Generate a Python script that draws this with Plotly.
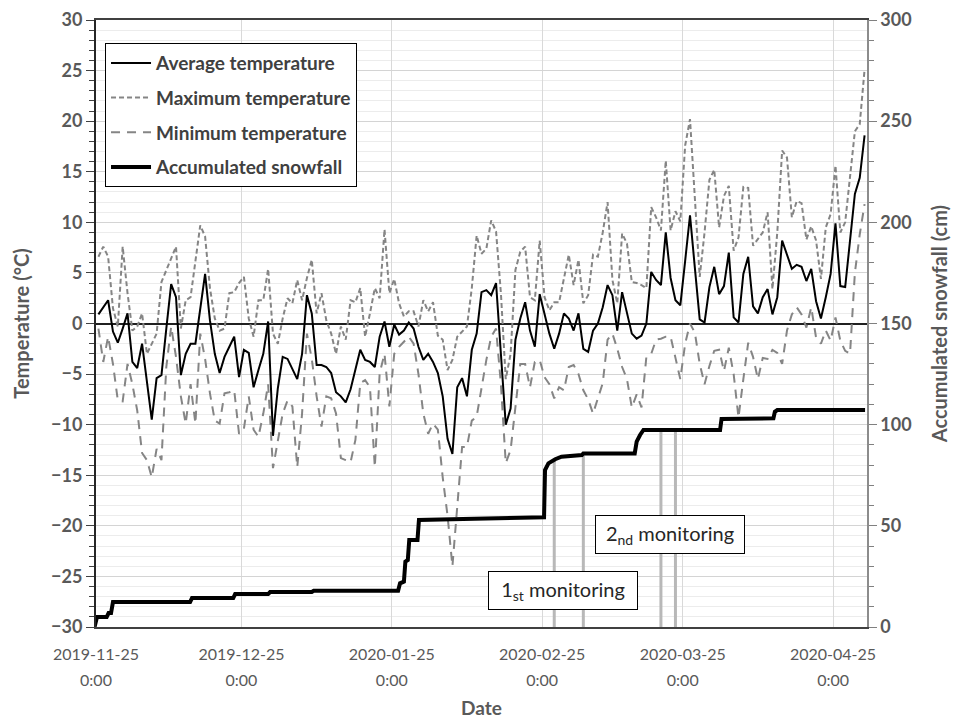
import plotly.graph_objects as go
import pandas as pd

# ---------------- data ----------------
start = pd.Timestamp("2019-11-25")
temp_dates = pd.date_range("2019-11-25 12:00", periods=159, freq="D")

avg_temp = [
    0.9, 1.6, 2.3, -0.8, -1.9, -0.5, 1.0, -3.8, -4.4, -2.0,
    -5.9, -9.5, -5.4, -5.1, -0.5, 3.9, 2.6, -5.1, -3.0, -2.0,
    -2.0, 1.5, 4.9, 0.3, -3.0, -4.9, -3.3, -2.3, -1.3, -5.3,
    -2.6, -2.9, -6.3, -4.6, -3.0, 0.2, -11.1, -6.4, -3.3, -3.5,
    -4.5, -5.5, -3.0, 2.8, 1.0, -4.1, -4.1, -4.3, -4.9, -6.8,
    -7.2, -7.8, -6.5, -4.5, -2.6, -3.6, -3.8, -4.3, -1.3, 0.2,
    -2.3, -0.1, -1.1, -0.7, 0.1, -0.5, -2.3, -3.6, -3.0, -3.8,
    -4.9, -7.2, -11.4, -12.9, -6.3, -5.4, -7.2, -2.6, -1.0, 3.1,
    3.3, 2.8, 4.0, -3.0, -10.0, -8.4, -1.6, 0.5, 2.1, -0.7,
    -2.3, 2.9, 1.0, -1.0, -2.5, -1.0, 1.0, 0.5, -0.7, 1.0,
    -2.5, -2.8, -0.7, 0.0, 1.6, 3.8, 2.8, -0.7, 3.1, 1.0,
    -1.0, -1.5, -1.2, 0.0, 5.1, 4.3, 3.8, 9.0, 4.5, 2.3,
    1.8, 6.2, 10.7, 5.5, 0.4, 0.1, 3.6, 5.6, 2.9, 3.7,
    7.0, 0.6, 0.1, 4.9, 6.6, 1.7, 1.0, 2.6, 3.4, 0.9,
    2.6, 8.2, 6.9, 5.4, 5.8, 5.6, 4.2, 5.4, 2.2, 0.5,
    2.6, 4.9, 9.9, 3.7, 3.6, 8.2, 12.8, 14.4, 18.6,
]

max_temp = [
    6.6, 7.6, 6.6, 1.5, -0.3, 7.6, 3.0, -0.7, -0.3, 1.0,
    -3.0, -2.0, -1.0, 4.1, 5.3, 6.5, 7.6, -0.5, 2.3, 2.6,
    6.0, 9.7, 8.6, 3.5, 0.5, -0.7, -0.5, 3.0, 3.1, 4.0,
    4.6, 0.5, -1.3, 2.3, 2.3, 5.4, -1.0, -2.0, 0.5, 2.5,
    2.0, 4.3, 2.3, 4.5, 6.3, 1.0, 3.0, 0.3, -1.0, -3.0,
    -0.3, -1.6, 2.3, 2.1, 3.5, -1.3, 1.0, 3.5, 2.5, 9.3,
    3.0, 4.4, 2.0, 0.7, 1.2, 1.2, -0.3, 2.3, 1.2, 2.1,
    -1.2, -1.6, -4.6, -3.6, -1.3, -0.8, -0.3, 3.5, 8.7, 6.9,
    7.4, 10.2, 9.1, 3.0, -5.5, -3.0, 5.3, 7.1, 7.6, 2.6,
    2.3, 8.2, 2.6, 1.3, 2.1, 2.1, 4.5, 6.8, 3.8, 6.3,
    2.0, 2.8, 6.8, 6.6, 9.0, 12.0, 4.3, 2.0, 8.9, 7.9,
    4.1, 4.0, 3.8, 3.5, 11.5, 10.5, 9.2, 16.1, 9.2, 11.1,
    10.1, 17.6, 20.2, 12.0, 4.6, 9.0, 14.2, 15.2, 9.5, 12.6,
    13.6, 7.2, 8.5, 13.5, 13.4, 7.7, 8.3, 9.0, 11.0, 3.4,
    9.0, 17.1, 16.4, 10.5, 12.1, 11.9, 8.3, 9.6, 8.2, 4.4,
    9.5, 10.8, 15.6, 9.0, 10.0, 14.5, 19.0, 19.7, 25.1,
]

min_temp = [
    -0.5, -3.8, -1.3, -4.0, -7.6, -7.7, -4.0, -6.0, -8.6, -12.8,
    -13.5, -15.2, -12.4, -13.5, -4.3, -0.3, -3.3, -7.2, -9.9, -6.0,
    -9.9, -1.0, -3.5, -6.9, -9.6, -9.9, -6.9, -6.8, -6.6, -10.9,
    -10.4, -7.2, -10.5, -11.2, -8.9, -6.0, -14.3, -11.5, -8.9, -7.6,
    -8.2, -14.2, -8.9, -1.0, -3.5, -7.2, -10.2, -7.2, -7.4, -8.9,
    -13.3, -13.5, -13.7, -11.5, -5.9, -5.6, -6.3, -14.2, -4.9, -3.0,
    -8.2, -3.0, -2.3, -1.8, -1.3, -2.0, -5.0, -8.9, -10.9, -9.9,
    -10.5, -15.2, -19.0, -24.0, -18.5, -12.2, -12.2, -9.6, -9.2, -6.3,
    -3.6, -1.3, -0.5, -6.0, -13.8, -12.5, -8.0, -4.0, -4.0, -6.3,
    -3.8, -3.6, -5.3, -6.0, -7.4, -6.3, -6.6, -4.3, -4.1, -5.0,
    -6.6, -7.5, -8.9, -7.5, -5.9, -1.6, -1.0, -2.5, -4.3, -5.5,
    -8.3, -7.0, -8.3, -3.3, -3.0, -1.6, -1.5, -1.3, -1.3, -3.4,
    -5.5, -2.0, 0.0, -0.9, -4.0, -6.0, -4.2, -2.7, -2.6, -4.7,
    -2.4, -5.0, -9.3, -5.5, -1.9, -3.3, -5.5, -3.4, -3.5, -2.6,
    -2.9, -4.0, -0.7, 0.9, 1.6, 0.9, -0.4, 1.6, -1.4, -2.0,
    -0.7, -1.7, 0.6, -1.7, -2.7, -3.0, 5.0, 8.8, 11.8,
]

# accumulated snowfall: days after 2019-11-25 00:00 and value (cm)
snow_day = [
    -0.3, 0.2, 2.2, 2.6, 3.1, 3.5, 19.4, 19.8, 28.3, 28.7,
    35.5, 35.9, 44.5, 44.9, 62.3, 62.7, 63.5, 63.8, 64.3, 64.6,
    66.3, 66.6, 78.0, 92.4, 92.6, 93.3, 94.7, 96.0, 100.2, 100.5,
    111.1, 111.5, 112.2, 112.9, 128.7, 129.0, 139.7, 140.0, 140.5, 158.6,
]
snow_cm = [
    0.0, 4.9, 4.9, 6.9, 6.9, 12.3, 12.3, 14.3, 14.3, 16.3,
    16.3, 17.3, 17.3, 17.9, 17.9, 21.6, 22.4, 32.3, 33.1, 43.0,
    43.0, 52.9, 53.5, 54.2, 77.6, 80.9, 82.9, 84.2, 85.0, 85.8,
    85.8, 91.6, 94.9, 97.4, 97.4, 102.8, 103.1, 106.4, 107.2, 107.2,
]
snow_dates = start + pd.to_timedelta(snow_day, unit="D")

monitoring_dates = ["2020-02-27 12:00", "2020-03-04 12:00", "2020-03-20 12:00", "2020-03-23 12:00"]
monitoring_snow = [82.6, 85.8, 97.4, 97.4]

tick_dates = ["2019-11-25", "2019-12-25", "2020-01-25", "2020-02-25", "2020-03-25", "2020-04-25"]
tick_text = ["<span style='font-size:16px'>%s</span><br><span style='font-size:16px'>0:00</span>" % d
             for d in tick_dates]

# ---------------- figure ----------------
FONT = "Lato"
GRAY_TXT = "#595959"
fig = go.Figure()

mon_x, mon_y = [], []
for d, v in zip(monitoring_dates, monitoring_snow):
    mon_x += [d, d, None]
    mon_y += [0, v, None]

fig.add_trace(go.Scatter(
    x=temp_dates, y=max_temp, mode="lines", name="Maximum temperature",
    line=dict(color="#858585", width=2, dash="5px,3px"),
    legendgroup="b", legendrank=2))
fig.add_trace(go.Scatter(
    x=temp_dates, y=min_temp, mode="lines", name="Minimum temperature",
    line=dict(color="#858585", width=2, dash="9px,7px"),
    legendgroup="c", legendrank=3))
fig.add_trace(go.Scatter(
    x=temp_dates, y=avg_temp, mode="lines", name="Average temperature",
    line=dict(color="black", width=2),
    legendgroup="a", legendrank=1))
fig.add_trace(go.Scatter(
    x=mon_x, y=mon_y, mode="lines", yaxis="y2", showlegend=False,
    line=dict(color="#b8b8b8", width=3), hoverinfo="skip"))
fig.add_trace(go.Scatter(
    x=snow_dates, y=snow_cm, mode="lines", yaxis="y2", name="Accumulated snowfall",
    line=dict(color="black", width=4),
    legendgroup="d", legendrank=4))

fig.update_layout(
    width=956, height=721,
    margin=dict(l=96, r=89, t=20, b=94),
    plot_bgcolor="white", paper_bgcolor="white",
    font=dict(family=FONT, color=GRAY_TXT),
    xaxis=dict(
        type="date", range=["2019-11-25", "2020-05-02"], automargin=False,
        tickvals=tick_dates, ticktext=tick_text,
        tickfont=dict(size=20, color=GRAY_TXT), ticks="", ticklabelstandoff=7,
        showgrid=True, gridcolor="#d9d9d9", gridwidth=1,
        showline=True, linecolor="#404040", linewidth=2, mirror=True,
        title=dict(text="Date", font=dict(size=19, color=GRAY_TXT, weight="bold"), standoff=14),
        zeroline=False,
    ),
    yaxis=dict(
        range=[-30, 30], dtick=5, tick0=0, automargin=False,
        tickfont=dict(size=18, color=GRAY_TXT, weight="bold"),
        ticks="outside", ticklen=8, tickcolor="#404040", tickwidth=1,
        showgrid=True, gridcolor="#d4d4d4", gridwidth=1,
        minor=dict(dtick=1, ticks="outside", ticklen=5, tickcolor="#404040",
                   showgrid=True, gridcolor="#ececec", gridwidth=1),
        showline=True, linecolor="#262626", linewidth=2,
        zeroline=True, zerolinecolor="#202020", zerolinewidth=1.5,
        title=dict(text="Temperature (°C)", font=dict(size=20, color=GRAY_TXT, weight="bold"), standoff=16),
    ),
    yaxis2=dict(
        overlaying="y", side="right", range=[0, 300], dtick=50, tick0=0, automargin=False,
        tickfont=dict(size=18, color=GRAY_TXT, weight="bold"),
        ticks="outside", ticklen=8, tickcolor="#808080",
        minor=dict(dtick=10, ticks="outside", ticklen=5, tickcolor="#808080", showgrid=False),
        showgrid=False, zeroline=False,
        showline=True, linecolor="#8c8c8c", linewidth=1.5,
        title=dict(text="Accumulated snowfall (cm)", font=dict(size=20, color=GRAY_TXT, weight="bold"), standoff=22),
    ),
    legend=dict(
        x=0.0117, y=0.962, xanchor="left", yanchor="top",
        bgcolor="white", bordercolor="black", borderwidth=1,
        font=dict(family=FONT, size=19, color="#404040", weight="bold"),
        traceorder="grouped", tracegroupgap=7, itemwidth=40,
    ),
    showlegend=True,
)

for txt, xp, yp in [("1<sub>st</sub> monitoring", 0.6057, 0.0601),
                    ("2<sub>nd</sub> monitoring", 0.745, 0.1516)]:
    fig.add_annotation(
        xref="paper", yref="paper", x=xp, y=yp, xanchor="center", yanchor="middle",
        text=txt, showarrow=False, width=136, height=25,
        font=dict(family=FONT, size=20, color="#262626"),
        bgcolor="white", bordercolor="black", borderwidth=1, borderpad=6,
    )

fig.write_html("out.html")
